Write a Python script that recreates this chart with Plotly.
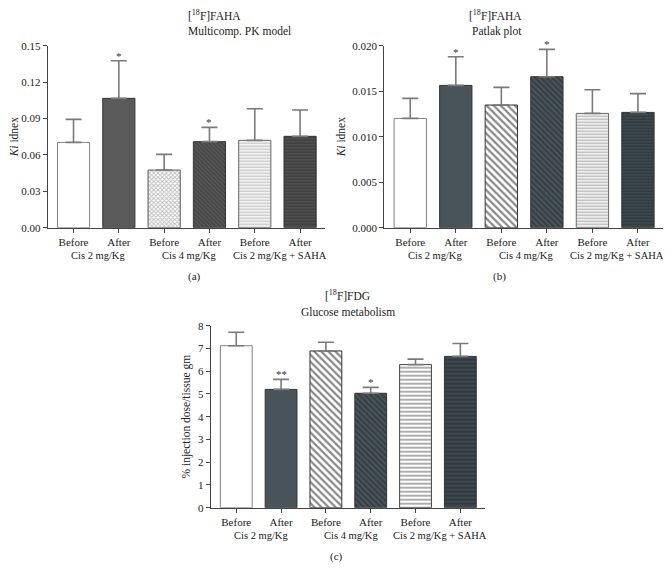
import plotly.graph_objects as go

# ---------------- data ----------------
bar_labels = ["Before", "After", "Before", "After", "Before", "After"]
group_labels = ["Cis 2 mg/Kg", "Cis 4 mg/Kg", "Cis 2 mg/Kg + SAHA"]

a_mean = [0.0703, 0.1066, 0.0475, 0.0709, 0.0720, 0.0753]
a_sem = [0.0190, 0.0310, 0.0129, 0.0118, 0.0260, 0.0217]
a_sig = ["", "*", "", "*", "", ""]

b_mean = [0.01201, 0.01564, 0.01348, 0.01659, 0.01256, 0.01267]
b_sem = [0.00220, 0.00315, 0.00194, 0.00301, 0.00260, 0.00206]
b_sig = ["", "*", "", "*", "", ""]

c_mean = [7.12, 5.20, 6.89, 5.03, 6.29, 6.65]
c_sem = [0.59, 0.44, 0.38, 0.26, 0.24, 0.57]
c_sig = ["", "**", "", "*", "", ""]

a_ticks = [0.00, 0.03, 0.06, 0.09, 0.12, 0.15]
b_ticks = [0.000, 0.005, 0.010, 0.015, 0.020]
c_ticks = [0, 1, 2, 3, 4, 5, 6, 7, 8]

FONT = "Liberation Serif"
TXT = "#222222"
AX = "#444444"

# page body has an 8px margin: figure is sized to fit inside the window
W, H = 655, 560
OFF = 8


def px(xp):
    return (xp - OFF) / W


def py(yp):
    return 1 - (yp - OFF) / H


x = list(range(6))

panels = [
    dict(mean=a_mean, sem=a_sem, sig=a_sig, ticks=a_ticks, fmt="{:.2f}", rng=[0, 0.15],
         xa="x", ya="y", xd=[px(47.7), px(325)], yd=[py(227.7), py(45.7)],
         shapes=["", "", "x", "\\", "-", "-"],
         col=["white", "#5a5a5a", "white", "#585858", "white", "#505050"],
         fg=["white", "#5a5a5a", "#7a7a7a", "#262626", "#8a8a8a", "#262626"],
         size=[4, 4, 3, 3, 3, 3], sol=[0.3, 0.3, 0.5, 0.4, 0.5, 0.4],
         edge=["#808080", "#333333", "#555555", "#333333", "#666666", "#333333"],
         title1="[<sup>18</sup>F]FAHA", title2="Multicomp. PK model",
         ytitle="<i>Ki</i> idnex", tag="(a)", tagx=186, ty=[15, 32], lab=[240, 255, 276]),
    dict(mean=b_mean, sem=b_sem, sig=b_sig, ticks=b_ticks, fmt="{:.3f}", rng=[0, 0.020],
         xa="x2", ya="y2", xd=[px(384.3), px(663)], yd=[py(227.7), py(45.7)],
         shapes=["", "", "\\", "\\", "-", "-"],
         col=["white", "#48545a", "white", "#48545a", "white", "#3e4a4e"],
         fg=["white", "#48545a", "#111111", "#1c2224", "#6a6a6a", "#1c2224"],
         size=[4, 4, 5, 4, 3, 3], sol=[0.3, 0.3, 0.45, 0.4, 0.5, 0.4],
         edge=["#808080", "#333333", "#333333", "#333333", "#666666", "#333333"],
         title1="[<sup>18</sup>F]FAHA", title2="Patlak plot",
         ytitle="<i>Ki</i> idnex", tag="(b)", tagx=508, ty=[15, 32], lab=[240, 255, 276]),
    dict(mean=c_mean, sem=c_sem, sig=c_sig, ticks=c_ticks, fmt="{:d}", rng=[0, 8],
         xa="x3", ya="y3", xd=[px(210.7), px(485)], yd=[py(507.7), py(325.7)],
         shapes=["", "", "\\", "\\", "-", "-"],
         col=["white", "#48545a", "white", "#48545a", "white", "#3e4a4e"],
         fg=["white", "#48545a", "#111111", "#1c2224", "#333333", "#1c2224"],
         size=[4, 4, 5, 4, 4, 4], sol=[0.3, 0.3, 0.45, 0.4, 0.4, 0.4],
         edge=["#808080", "#333333", "#333333", "#333333", "#444444", "#333333"],
         title1="[<sup>18</sup>F]FDG", title2="Glucose metabolism",
         ytitle="% injection dose/tissue gm", tag="(c)", tagx=336, ty=[295, 312], lab=[520, 535, 556]),
]

fig = go.Figure()
annotations = []

for i, p in enumerate(panels):
    for k in range(6):
        fig.add_trace(go.Bar(
            x=[x[k]], y=[p["mean"][k]], width=0.71,
            marker=dict(color=p["col"][k], line=dict(color=p["edge"][k], width=1),
                        pattern=dict(shape=p["shapes"][k], fgcolor=p["fg"][k],
                                     size=p["size"][k], solidity=p["sol"][k],
                                     fillmode="overlay")),
            error_y=dict(type="data", array=[p["sem"][k]], arrayminus=[0], symmetric=False,
                         color="#7a7a7a", thickness=1.6, width=8),
            xaxis=p["xa"], yaxis=p["ya"], showlegend=False, hoverinfo="skip",
        ))
    sfx = "" if i == 0 else str(i + 1)
    fig.update_layout(**{
        "xaxis" + sfx: dict(domain=p["xd"], anchor=p["ya"], range=[-0.57, 5.55],
                            tickvals=x, ticktext=bar_labels, showline=True, linecolor=AX,
                            linewidth=1, ticks="outside", ticklen=4, tickcolor=AX,
                            showgrid=False, zeroline=False, fixedrange=True, automargin=False,
                            tickfont=dict(family=FONT, size=11, color=TXT)),
        "yaxis" + sfx: dict(domain=p["yd"], anchor=p["xa"], range=p["rng"],
                            tickvals=p["ticks"], ticktext=[p["fmt"].format(t) for t in p["ticks"]],
                            showline=True, linecolor=AX, linewidth=1, ticks="outside",
                            ticklen=4, tickcolor=AX, showgrid=False, zeroline=False,
                            fixedrange=True, automargin=False,
                            tickfont=dict(family=FONT, size=11, color=TXT),
                            title=dict(text=p["ytitle"], font=dict(family=FONT, size=11.5, color=TXT),
                                       standoff=4)),
    })
    # significance stars
    for xi, m, s, g in zip(x, p["mean"], p["sem"], p["sig"]):
        if g:
            annotations.append(dict(x=xi, y=m + s, xref=p["xa"], yref=p["ya"], text=g,
                                    showarrow=False, yanchor="bottom", yshift=-3,
                                    font=dict(family=FONT, size=11, color="#333333")))
    # titles
    cx = (p["xd"][0] + p["xd"][1]) / 2
    for txt, yy in zip([p["title1"], p["title2"]], p["ty"]):
        annotations.append(dict(x=cx, y=py(yy), xref="paper", yref="paper", text=txt,
                                showarrow=False, yanchor="middle",
                                font=dict(family=FONT, size=11.5, color=TXT)))
    # group labels
    for gi, gl in enumerate(group_labels):
        annotations.append(dict(x=2 * gi + 0.55, y=py(p["lab"][1]), xref=p["xa"], yref="paper",
                                text=gl, showarrow=False, yanchor="middle",
                                font=dict(family=FONT, size=10.5, color=TXT)))
    annotations.append(dict(x=px(p["tagx"]), y=py(p["lab"][2]), xref="paper", yref="paper",
                            text=p["tag"], showarrow=False, yanchor="middle",
                            font=dict(family=FONT, size=11, color=TXT)))

fig.update_layout(
    width=W, height=H, margin=dict(l=0, r=0, t=0, b=0),
    paper_bgcolor="white", plot_bgcolor="white",
    annotations=annotations, barmode="overlay",
    font=dict(family=FONT, size=11, color=TXT),
)

fig.write_html("out.html")
